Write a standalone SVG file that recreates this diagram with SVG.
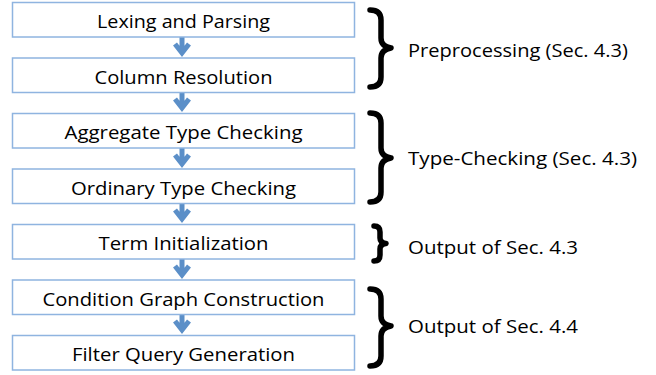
<svg xmlns="http://www.w3.org/2000/svg" width="656" height="375" viewBox="0 0 656 375">
<style>
.box{fill:#fff;stroke:#8fb4e0;stroke-width:1.5}
.t{font-family:"Open Sans","Liberation Sans",Arial,sans-serif;font-size:19px;fill:#000;text-anchor:middle}
.l{font-family:"Open Sans","Liberation Sans",Arial,sans-serif;font-size:19px;fill:#000}
.br{fill:none;stroke:#000;stroke-width:5.5;stroke-linecap:round;stroke-linejoin:round}
.arr{fill:none;stroke:#5b8fc8;stroke-width:5;stroke-linejoin:miter}
</style>
<rect width="656" height="375" fill="#fff"/>
<g id="connectors">
<g id="a1"><path class="arr" d="M182,37V54M175,44L182,53L189,44"/></g>
<g id="a2"><path class="arr" d="M182,92V109M175,99L182,108L189,99"/></g>
<g id="a3"><path class="arr" d="M182,148V165M175,155L182,164L189,155"/></g>
<g id="a4"><path class="arr" d="M182,203V220M175,210L182,219L189,210"/></g>
<g id="a5"><path class="arr" d="M182,259V276M175,266L182,275L189,266"/></g>
<g id="a6"><path class="arr" d="M182,314V331M175,321L182,330L189,321"/></g>
</g>
<g id="n1"><rect class="box" x="12.5" y="2.5" width="342" height="34.5"/><text class="t" x="183.5" y="28" textLength="173" lengthAdjust="spacingAndGlyphs">Lexing and Parsing</text></g>
<g id="n2"><rect class="box" x="12.5" y="58" width="342" height="34.5"/><text class="t" x="183.5" y="83.5" textLength="178" lengthAdjust="spacingAndGlyphs">Column Resolution</text></g>
<g id="n3"><rect class="box" x="12.5" y="113.5" width="342" height="34.5"/><text class="t" x="183.5" y="139" textLength="238" lengthAdjust="spacingAndGlyphs">Aggregate Type Checking</text></g>
<g id="n4"><rect class="box" x="12.5" y="169" width="342" height="34.5"/><text class="t" x="183.5" y="194.5" textLength="225" lengthAdjust="spacingAndGlyphs">Ordinary Type Checking</text></g>
<g id="n5"><rect class="box" x="12.5" y="224.5" width="342" height="34.5"/><text class="t" x="183.5" y="250" textLength="170" lengthAdjust="spacingAndGlyphs">Term Initialization</text></g>
<g id="n6"><rect class="box" x="12.5" y="280" width="342" height="34.5"/><text class="t" x="183.5" y="305.5" textLength="282" lengthAdjust="spacingAndGlyphs">Condition Graph Construction</text></g>
<g id="n7"><rect class="box" x="12.5" y="335.5" width="342" height="34.5"/><text class="t" x="183.5" y="361" textLength="223" lengthAdjust="spacingAndGlyphs">Filter Query Generation</text></g>
<g id="b1"><path class="br" d="M370,10C377,10 381,13 381,20V38C381,44 385,47 391,48C385,49 381,52 381,58V77C381,84 377,87 370,87"/><text class="l" x="408" y="57" textLength="220" lengthAdjust="spacingAndGlyphs">Preprocessing (Sec. 4.3)</text></g>
<g id="b2"><path class="br" d="M370,113C377,113 381,116 381,123V148C381,154 385,157 391,158C385,159 381,162 381,168V192C381,199 377,202 370,202"/><text class="l" x="408" y="165" textLength="229" lengthAdjust="spacingAndGlyphs">Type-Checking (Sec. 4.3)</text></g>
<g id="b3"><path class="br" d="M374,226C378,226 380,228 380,232V238C380,241 382,243 386,243.5C382,244 380,246 380,249V255C380,259 378,261 374,261"/><text class="l" x="408" y="254" textLength="170" lengthAdjust="spacingAndGlyphs">Output of Sec. 4.3</text></g>
<g id="b4"><path class="br" d="M370,289C377,289 381,292 381,299V316C381,322 385,325 391,326C385,327 381,330 381,336V356C381,363 377,366 370,366"/><text class="l" x="408" y="333" textLength="170" lengthAdjust="spacingAndGlyphs">Output of Sec. 4.4</text></g>
</svg>
